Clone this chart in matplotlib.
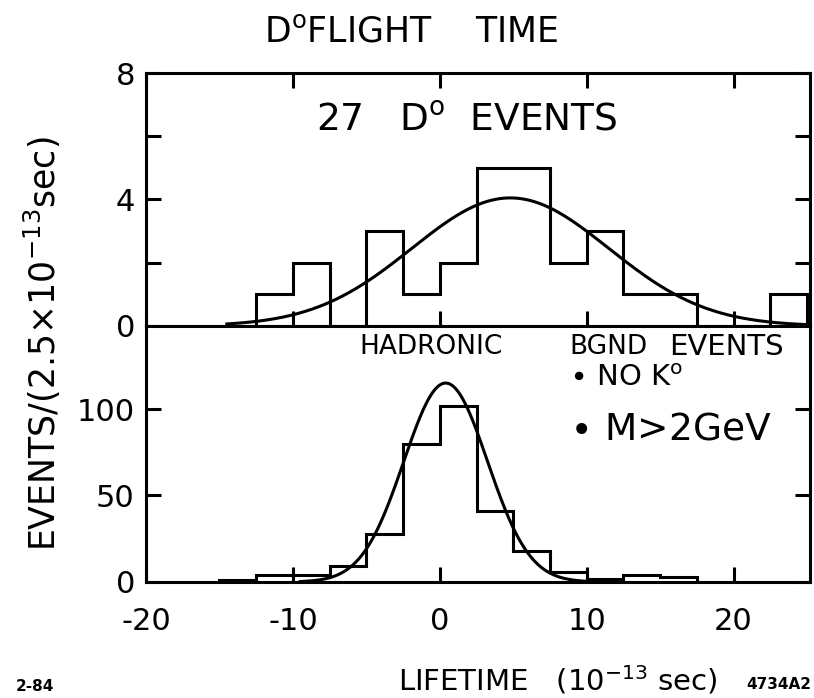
import numpy as np
import matplotlib
matplotlib.use('Agg')
import matplotlib.pyplot as plt

# ---- data ----
# top panel: 27 D0 events, bins of 2.5e-13 s
d0_edges = [-12.5, -10, -7.5, -5, -2.5, 0, 2.5, 5, 7.5, 10, 12.5, 15, 17.5, 20, 22.5, 25]
d0_counts = [1, 2, 0, 3, 1, 2, 5, 5, 2, 3, 1, 1, 0, 0, 1]
d0_fit = dict(amp=4.05, mean=4.8, sigma=6.7)      # fitted curve parameters

# bottom panel: hadronic background events
bg_edges = [-15, -12.5, -10, -7.5, -5, -2.5, 0, 2.5, 5, 7.5, 10, 12.5, 15, 17.5]
bg_counts = [1, 4, 4, 9, 28, 80, 102, 41, 18, 6, 2, 4, 3]
bg_fit = dict(amp=115, mean=0.4, sigma=2.85)

x_ticks = [-20, -10, 0, 10, 20]
XMIN, XMAX = -20, 25.2

plt.rcParams['font.family'] = ['DejaVu Sans']
plt.rcParams['mathtext.fontset'] = 'dejavusans'
plt.rcParams['axes.unicode_minus'] = False
LW = 2.2


def gauss_curve(p, lo, hi):
    xs = np.linspace(lo, hi, 400)
    return xs, p['amp'] * np.exp(-0.5 * ((xs - p['mean']) / p['sigma']) ** 2)


fig = plt.figure(figsize=(8.14, 6.98), dpi=100)
ax1 = fig.add_axes([0.1794, 0.533, 0.8156, 0.3624])
ax2 = fig.add_axes([0.1794, 0.1662, 0.8156, 0.3668])

for ax in (ax1, ax2):
    for s in ax.spines.values():
        s.set_linewidth(LW)
    ax.set_xlim(XMIN, XMAX)
    ax.set_xticks(x_ticks)
    ax.tick_params(axis='both', direction='in', length=11, width=LW,
                   labelsize=22, pad=8)

# top panel
ax1.stairs(d0_counts, d0_edges, color='k', lw=LW, baseline=0)
xs, ys = gauss_curve(d0_fit, -14.5, XMAX)
ax1.plot(xs, ys, color='k', lw=LW)
ax1.set_ylim(0, 8)
ax1.set_yticks([0, 2, 4, 6, 8])
ax1.set_yticklabels(['0', '', '4', '', '8'])
ax1.tick_params(axis='x', top=True, bottom=True, labelbottom=False)
ax1.tick_params(axis='y', left=True, right=True)
ax1.text(-8.4, 6.5, r'27   D$^{\rm o}$  EVENTS', fontsize=27, va='center', ha='left')

# bottom panel
ax2.stairs(bg_counts, bg_edges, color='k', lw=LW, baseline=0)
xs, ys = gauss_curve(bg_fit, -9.5, 10.5)
ax2.plot(xs, ys, color='k', lw=LW)
ax2.set_ylim(0, 148)
ax2.set_yticks([0, 50, 100])
ax2.tick_params(axis='x', top=False, bottom=True, pad=18)
ax2.tick_params(axis='y', left=True, right=True)
ax2.text(-5.5, 136, 'HADRONIC', fontsize=19, va='center', ha='left')
ax2.text(8.8, 136, 'BGND', fontsize=19, va='center', ha='left')
ax2.text(15.6, 136, 'EVENTS', fontsize=21, va='center', ha='left')
ax2.text(8.8, 118, r'$\bullet$ NO K$^{\rm o}$', fontsize=21, va='center', ha='left')
ax2.text(8.8, 88, r'$\bullet$ M>2GeV', fontsize=27, va='center', ha='left')

# figure texts
fig.text(0.505, 0.955, r'D$^{\rm o}$FLIGHT    TIME', fontsize=25, ha='center', va='center')
fig.text(0.052, 0.508, r'EVENTS/(2.5$\times$10$^{-13}$sec)', fontsize=25,
         rotation=90, ha='center', va='center')
fig.text(0.685, 0.026, r'LIFETIME   (10$^{-13}$ sec)', fontsize=21, ha='center', va='center')
fig.text(0.043, 0.016, '2-84', fontsize=11, fontweight='bold', ha='center', va='center')
fig.text(0.957, 0.02, '4734A2', fontsize=11, fontweight='bold', ha='center', va='center')

fig.savefig('out.png', dpi=100)
